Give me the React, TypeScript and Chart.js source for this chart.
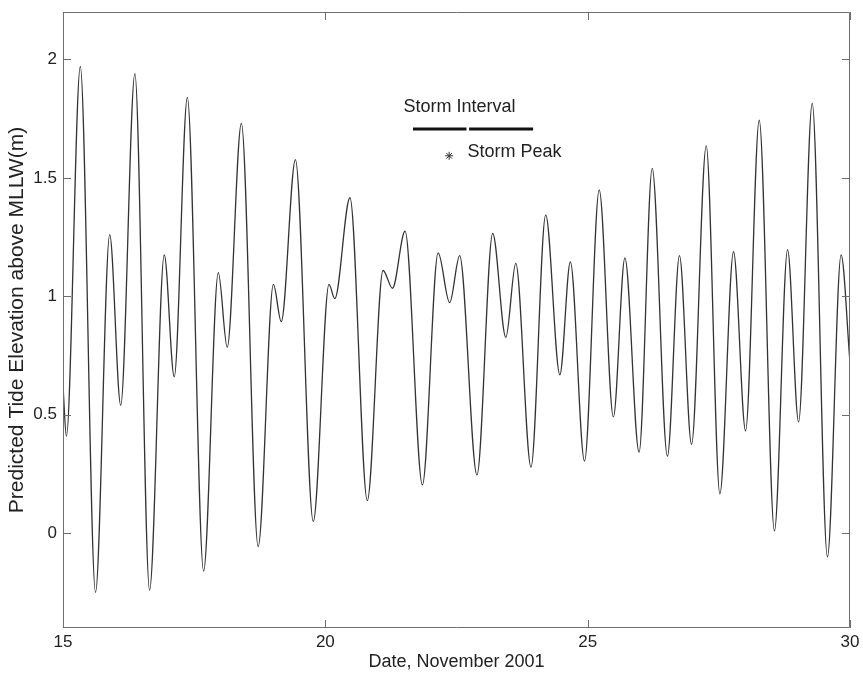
import React, { useEffect, useRef } from "react";
import { Chart, registerables } from "chart.js";

Chart.register(...registerables);

// Tide extremes (day of November 2001, elevation in m)
const tideDays = [
  15.0, 15.065, 15.33, 15.62, 15.89, 16.1, 16.37, 16.65, 16.93, 17.12,
  17.37, 17.68, 17.96, 18.13, 18.4, 18.72, 19.01, 19.16, 19.43, 19.77,
  20.07, 20.18, 20.47, 20.8, 21.1, 21.28, 21.52, 21.85, 22.15, 22.37,
  22.56, 22.89, 23.19, 23.44, 23.63, 23.92, 24.2, 24.47, 24.67, 24.94,
  25.22, 25.49, 25.71, 25.98, 26.23, 26.52, 26.75, 26.98, 27.26, 27.52,
  27.78, 28.01, 28.27, 28.56, 28.81, 29.02, 29.28, 29.57, 29.83, 30.0,
];
const tideLevels = [
  0.62, 0.41, 1.97, -0.25, 1.26, 0.54, 1.94, -0.24, 1.175, 0.66,
  1.84, -0.16, 1.1, 0.785, 1.73, -0.056, 1.05, 0.893, 1.577, 0.05,
  1.05, 0.99, 1.416, 0.138, 1.109, 1.034, 1.275, 0.204, 1.183, 0.973,
  1.172, 0.246, 1.266, 0.827, 1.139, 0.279, 1.344, 0.669, 1.145, 0.304,
  1.449, 0.491, 1.162, 0.342, 1.54, 0.325, 1.172, 0.375, 1.635, 0.166,
  1.188, 0.432, 1.743, 0.01, 1.197, 0.47, 1.814, -0.1, 1.175, 0.72,
];

// Storm annotation
const stormIntervalA = [21.67, 22.69];
const stormIntervalB = [22.74, 23.96];
const stormIntervalLevel = 1.706;
const stormPeakDay = [22.36];
const stormPeakLevel = [1.593];
const annotationTexts = ["Storm Interval", "Storm Peak"];
const annotationDays = [21.49, 22.71];
const annotationLevels = [1.8, 1.61];

// Axes
const xTickValues = [15, 20, 25, 30];
const yTickValues = [0, 0.5, 1, 1.5, 2];
const xRange = [15, 30];
const yRange = [-0.4, 2.2];
const xTitle = "Date, November 2001";
const yTitle = "Predicted Tide Elevation above MLLW(m)";

const FONT = "'Liberation Sans', Arial, Helvetica, sans-serif";

const boxPlugin = {
  id: "matlabBox",
  afterDatasetsDraw(chart: any) {
    const { ctx, chartArea, scales } = chart;
    const { left, right, top, bottom } = chartArea;
    const xs = scales.x;
    const ys = scales.y;
    ctx.save();
    ctx.strokeStyle = "#6e6e6e";
    ctx.lineWidth = 1;
    ctx.beginPath();
    ctx.rect(Math.round(left) + 0.5, Math.round(top) + 0.5, Math.round(right - left) - 1, Math.round(bottom - top) - 1);
    ctx.stroke();
    const tl = 8;
    ctx.beginPath();
    xTickValues.forEach((v) => {
      const px = Math.round(xs.getPixelForValue(v)) + 0.5;
      ctx.moveTo(px, bottom);
      ctx.lineTo(px, bottom - tl);
      ctx.moveTo(px, top);
      ctx.lineTo(px, top + tl);
    });
    yTickValues.forEach((v) => {
      const py = Math.round(ys.getPixelForValue(v)) + 0.5;
      ctx.moveTo(left, py);
      ctx.lineTo(left + tl, py);
      ctx.moveTo(right, py);
      ctx.lineTo(right - tl, py);
    });
    ctx.stroke();

    ctx.fillStyle = "#222";
    ctx.font = `18px ${FONT}`;
    ctx.textBaseline = "middle";
    ctx.textAlign = "left";
    annotationTexts.forEach((t, i) => {
      ctx.fillText(t, xs.getPixelForValue(annotationDays[i]), ys.getPixelForValue(annotationLevels[i]));
    });
    ctx.restore();
  },
};

export default function App() {
  const ref = useRef<HTMLCanvasElement | null>(null);
  useEffect(() => {
    if (!ref.current) return;
    const chart = new Chart(ref.current, {
      type: "line",
      data: {
        datasets: [
          {
            data: tideDays.map((d, i) => ({ x: d, y: tideLevels[i] })),
            borderColor: "#333",
            borderWidth: 1.3,
            pointRadius: 0,
            cubicInterpolationMode: "monotone",
            fill: false,
          },
          {
            data: stormIntervalA.map((d) => ({ x: d, y: stormIntervalLevel })),
            borderColor: "#111",
            borderWidth: 3,
            pointRadius: 0,
            fill: false,
          },
          {
            data: stormIntervalB.map((d) => ({ x: d, y: stormIntervalLevel })),
            borderColor: "#111",
            borderWidth: 3,
            pointRadius: 0,
            fill: false,
          },
          {
            data: stormPeakDay.map((d, i) => ({ x: d, y: stormPeakLevel[i] })),
            showLine: false,
            pointStyle: "star",
            pointRadius: 4,
            borderColor: "#333",
            borderWidth: 1,
            backgroundColor: "#333",
          },
        ],
      },
      options: {
        animation: false,
        responsive: false,
        layout: { padding: { top: 12, right: 13, left: 0, bottom: 0 } },
        plugins: { legend: { display: false }, tooltip: { enabled: false } },
        scales: {
          x: {
            type: "linear",
            min: xRange[0],
            max: xRange[1],
            afterBuildTicks: (s: any) => {
              s.ticks = xTickValues.map((v) => ({ value: v }));
            },
            afterFit: (s: any) => {
              s.height = 56;
              s.paddingLeft = 0;
              s.paddingRight = 0;
            },
            grid: { display: false, drawTicks: false },
            border: { display: false },
            ticks: {
              padding: 4,
              color: "#222",
              font: { family: FONT, size: 17 },
              maxRotation: 0,
              callback: (v: any) => String(v),
            },
            title: {
              display: true,
              text: xTitle,
              color: "#222",
              font: { family: FONT, size: 18 },
              padding: { top: 0, bottom: 11 },
            },
          },
          y: {
            type: "linear",
            min: yRange[0],
            max: yRange[1],
            afterBuildTicks: (s: any) => {
              s.ticks = yTickValues.map((v) => ({ value: v }));
            },
            afterFit: (s: any) => {
              s.width = 63;
              s.paddingTop = 0;
              s.paddingBottom = 0;
            },
            grid: { display: false, drawTicks: false },
            border: { display: false },
            ticks: {
              padding: 6,
              color: "#222",
              font: { family: FONT, size: 17 },
              callback: (v: any) => String(v),
            },
            title: {
              display: true,
              text: yTitle,
              color: "#222",
              font: { family: FONT, size: 21 },
              padding: { top: 5, bottom: 0 },
            },
          },
        },
      },
      plugins: [boxPlugin],
    } as any);
    return () => chart.destroy();
  }, []);

  return (
    <div style={{ position: "fixed", left: 0, top: 0, width: 863, height: 684, background: "#fff" }}>
      <canvas ref={ref} width={863} height={684} style={{ display: "block" }} />
    </div>
  );
}
